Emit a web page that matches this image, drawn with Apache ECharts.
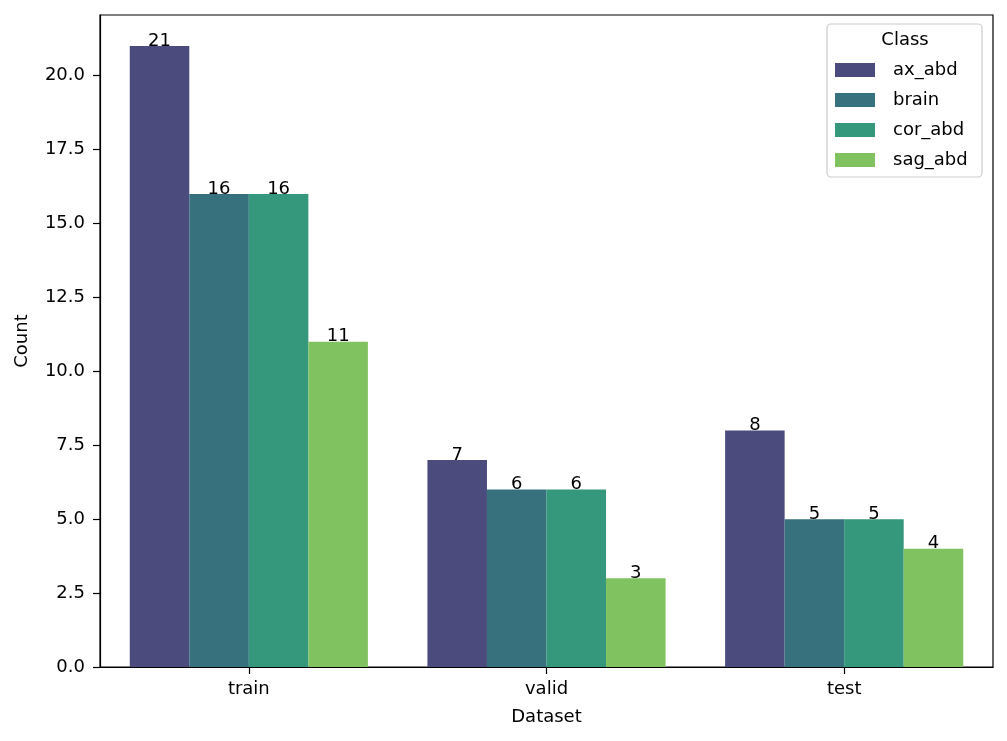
<!DOCTYPE html>
<html>
<head>
<meta charset="utf-8">
<script src="https://cdn.jsdelivr.net/npm/echarts@6/dist/echarts.min.js"></script>
<style>html,body{margin:0;padding:0;background:#fff}#c{width:1007px;height:741px}</style>
</head>
<body>
<div id="c"></div>
<script>
const categories = ['train', 'valid', 'test'];
const classNames = ['ax_abd', 'brain', 'cor_abd', 'sag_abd'];
const axAbd = [21, 7, 8];
const brain = [16, 6, 5];
const corAbd = [16, 6, 5];
const sagAbd = [11, 3, 4];
const yTicks = [0, 2.5, 5, 7.5, 10, 12.5, 15, 17.5, 20];
const colors = ['#4b4b7d', '#37717e', '#35977b', '#81c260'];

const seriesValues = [axAbd, brain, corAbd, sagAbd];
const FONT = 'DejaVu Sans';
const FS = 18;

const chart = echarts.init(document.getElementById('c'));
chart.setOption({
  animation: false,
  textStyle: { fontFamily: FONT, color: '#000' },
  grid: { left: 100, right: 14, top: 15, bottom: 74, show: true, borderColor: '#000', borderWidth: 1.2, backgroundColor: 'transparent' },
  xAxis: {
    type: 'category',
    data: categories,
    name: 'Dataset',
    nameLocation: 'middle',
    nameGap: 41,
    nameTextStyle: { fontFamily: FONT, fontSize: FS, color: '#000' },
    axisLine: { show: true, lineStyle: { color: '#000', width: 1.2 } },
    axisTick: { show: true, alignWithLabel: true, length: 7, lineStyle: { color: '#000', width: 1.2 } },
    axisLabel: { fontFamily: FONT, fontSize: FS, color: '#000', margin: 13 },
    splitLine: { show: false }
  },
  yAxis: {
    type: 'value',
    min: 0,
    max: 22.05,
    interval: 2.5,
    name: 'Count',
    nameLocation: 'middle',
    nameGap: 69,
    nameTextStyle: { fontFamily: FONT, fontSize: FS, color: '#000' },
    axisLine: { show: true, lineStyle: { color: '#000', width: 1.2 } },
    axisTick: { show: true, length: 7, customValues: yTicks, lineStyle: { color: '#000', width: 1.2 } },
    axisLabel: { fontFamily: FONT, fontSize: FS, color: '#000', margin: 15, customValues: yTicks, formatter: v => v.toFixed(1) },
    splitLine: { show: false }
  },
  legend: {
    orient: 'vertical',
    left: 835,
    top: 61,
    padding: 0,
    itemWidth: 40,
    itemHeight: 14,
    itemGap: 12,
    icon: 'rect',
    data: classNames,
    textStyle: { fontFamily: FONT, fontSize: FS, color: '#000', lineHeight: 14, padding: [0, 0, 0, 13] },
    z: 10
  },
  graphic: [
    { type: 'rect', shape: { x: 827, y: 24, width: 155, height: 153, r: 4 }, style: { fill: 'rgba(255,255,255,0.8)', stroke: '#cccccc', lineWidth: 1.2 }, z: 5 },
    { type: 'text', x: 905, y: 40, style: { text: 'Class', fontFamily: FONT, fontSize: FS, fill: '#000', align: 'center', verticalAlign: 'middle' }, z: 6 }
  ],
  series: classNames.map((n, i) => ({
    name: n,
    type: 'bar',
    data: seriesValues[i],
    barGap: '0%',
    barCategoryGap: '20%',
    itemStyle: { color: colors[i] },
    label: { show: true, position: 'top', distance: -4, fontFamily: FONT, fontSize: FS, color: '#000' }
  }))
});
</script>
</body>
</html>
